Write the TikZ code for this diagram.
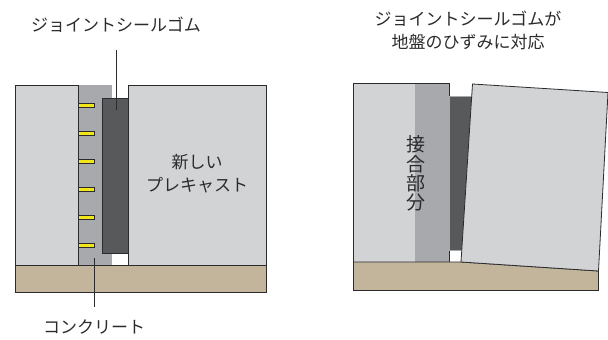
\documentclass[tikz,border=0pt]{standalone}
\usepackage{fontspec}
\setmainfont{Noto Sans CJK JP}
\definecolor{slabgray}{HTML}{D1D3D4}
\definecolor{concgray}{HTML}{A7A9AC}
\definecolor{sealgray}{HTML}{58595B}
\definecolor{soiltan}{HTML}{C2B59B}
\definecolor{edgegray}{HTML}{2B2B2D}
\definecolor{anchoryel}{HTML}{F2E619}
\tikzset{
	outline/.style={draw=edgegray,line width=0.8pt},
	caption/.style={font=\fontsize{17}{23}\selectfont,text=edgegray,align=center,inner sep=0pt},
	leader/.style={draw=edgegray,line width=0.6pt},
	anchorbar/.style={draw=edgegray,line width=0.5pt,fill=anchoryel}
}
\begin{document}
\begin{tikzpicture}[x=1pt,y=-1pt]
	\useasboundingbox (0,0) rectangle (608,340);
	% left picture
	\fill[concgray] (78,85) rectangle (112,265); % concrete
	\draw[outline,fill=sealgray] (128,98.5) -- (102.5,98.5) -- (102.5,253) -- (128,253); % seal
	\draw[outline,fill=slabgray] (15,85) rectangle (78,265); % old slab
	\draw[outline,fill=slabgray] (128,85) rectangle (266,265); % new slab
	\draw[outline,fill=soiltan] (15,265) rectangle (266,292.5); % ground
	\foreach \y in {105,133,161,189,217,245}
		\draw[anchorbar] (78,\y-2.2) rectangle (94.5,\y+2.2);
	\node[caption] (sealtext) at (116,25) {ジョイントシールゴム};
	\coordinate (sealtop) at (116,50);
	\coordinate (sealend) at (116,110);
	\draw[leader] (sealtop) -- (sealend);
	\node[caption] (conctext) at (94,327) {コンクリート};
	\coordinate (concend) at (94.5,258);
	\coordinate (concbot) at (94.5,307);
	\draw[leader] (concend) -- (concbot);
	\node[caption] (newtext) at (197,174) {新しい\\プレキャスト};
	% right picture
	\draw[outline,fill=slabgray] (353.5,83) rectangle (449.5,262); % old slab
	\fill[concgray] (415,83.5) rectangle (449,261.5); % concrete
	\draw[draw=concgray,line width=0.8pt,fill=sealgray] (449.5,96) rectangle (472,250); % seal
	\draw[outline,fill=soiltan] (353.5,262) -- (461,262) -- (598.5,271) -- (598.5,290.5) -- (353.5,290.5) -- cycle; % ground
	\draw[outline,fill=slabgray] (472.5,84) -- (608,92.5) -- (598.5,271) -- (461,262) -- cycle; % tilted slab
	\node[caption] (tilttext) at (468,30) {ジョイントシールゴムが\\地盤のひずみに対応};
	\node[caption,font=\fontsize{19}{19.2}\selectfont] (jointtext) at (416,173.5) {接\\合\\部\\分};
\end{tikzpicture}
\end{document}
